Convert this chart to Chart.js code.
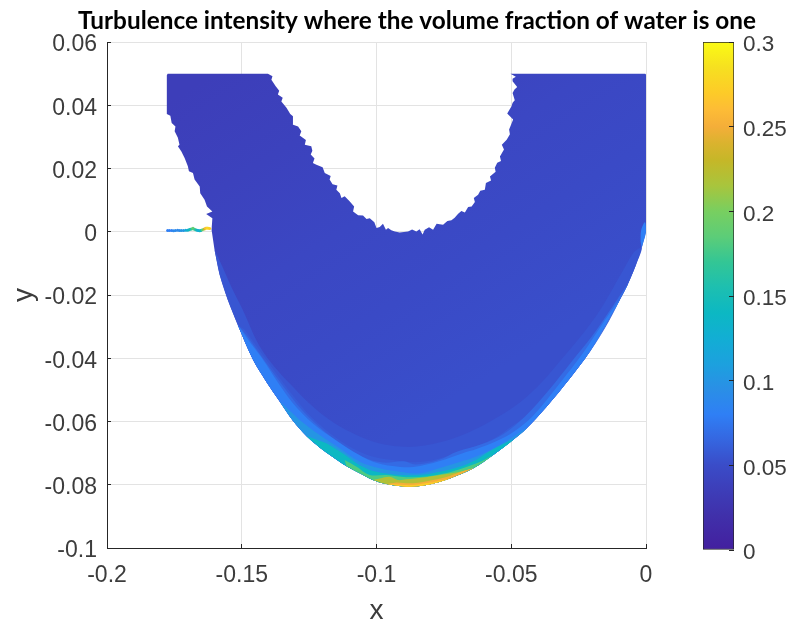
<!DOCTYPE html>
<html>
    <head>
        <meta charset="UTF-8">
        <title>Turbulence intensity</title>
        <script src="https://cdn.jsdelivr.net/npm/chart.js@4"></script>
        <style>
            body{margin:0;background:#fff;}
            #wrap{position:relative;width:789px;height:623px;overflow:hidden;}
            canvas{position:absolute;top:0;}
            #fieldChart{left:0;}
            #barChart{left:700px;}
        </style>
    </head>
    <body>
        <div id="wrap">
            <canvas id="fieldChart" width="789" height="623"></canvas>
            <canvas id="barChart" width="89" height="623"></canvas>
        </div>
        <script>
            const chartTitle="Turbulence intensity where the volume fraction of water is one";
            const xTicks=[-0.2,-0.15,-0.1,-0.05,0];
            const yTicks=[-0.1,-0.08,-0.06,-0.04,-0.02,0,0.02,0.04,0.06];
            const barTicks=[0,0.05,0.1,0.15,0.2,0.25,0.3];

            // colour bar: [value, colour]
            const barStops=[
                [0,"#ffffff"],[0.0008,"#ffffff"],[0.0008,"#43209f"],[0.02,"#4030aa"],[0.035,"#3d3db8"],
                [0.05,"#3a4cc8"],[0.065,"#3566e0"],[0.08,"#2f7ff5"],[0.095,"#2a8fe6"],
                [0.11,"#1ca1de"],[0.125,"#12aed4"],[0.14,"#0cb8c3"],[0.155,"#1dbfb0"],
                [0.17,"#33c695"],[0.185,"#5ccd78"],[0.2,"#78cf60"],[0.215,"#a8c53d"],
                [0.23,"#c5b728"],[0.24,"#dab32e"],[0.25,"#f4ae39"],[0.26,"#fdbc36"],
                [0.27,"#fdcb28"],[0.285,"#f6e020"],[0.3,"#fbfb14"]
            ];
            const barValue=[0.3];

            // outline of the wetted region
            const leftEdge=[[-0.1775,0.05],[-0.1778,0.0495],[-0.1778,0.0372],[-0.1765,0.0367],[-0.1760,0.0344],[-0.1746,0.0333],
                [-0.1749,0.0318],[-0.1737,0.0297],[-0.1731,0.0275],[-0.1737,0.0270],[-0.1724,0.0254],[-0.1712,0.0233],
                [-0.1700,0.0207],[-0.1696,0.0191],[-0.1681,0.0186],[-0.1675,0.0165],[-0.1656,0.0143],[-0.1654,0.0122],
                [-0.1638,0.0101],[-0.1629,0.0080],[-0.1609,0.0064],[-0.1632,0.0056],[-0.1609,0.0043],[-0.1612,0.0006]];
            const lowerArc=[[-0.1601,-0.0057],[-0.1582,-0.0136],[-0.1552,-0.0215],[-0.1515,-0.0294],[-0.1458,-0.0405],
                [-0.1409,-0.0474],[-0.1359,-0.0537],[-0.1310,-0.0598],[-0.1260,-0.0646],[-0.1211,-0.0682],[-0.1161,-0.0713],
                [-0.1112,-0.0741],[-0.1062,-0.0764],[-0.1013,-0.0785],[-0.0963,-0.0798],[-0.0889,-0.0806],[-0.0814,-0.0801],
                [-0.0728,-0.0780],[-0.0641,-0.0748],[-0.0567,-0.0706],[-0.0493,-0.0658],[-0.0443,-0.0621],[-0.0369,-0.0553],
                [-0.0282,-0.0463],[-0.0208,-0.0379],[-0.0146,-0.0289],[-0.0097,-0.0215],[-0.0067,-0.0165],[-0.0037,-0.0104],
                [-0.0016,-0.0051],[0,0]];
            const rightEdge=[[0,0.0497],[-0.0003,0.05]];
            const innerRight=[[-0.0503,0.05],[-0.0483,0.0490],[-0.0495,0.0484],[-0.0495,0.0476],[-0.0478,0.0458],[-0.0488,0.0450],
                [-0.0495,0.0439],[-0.0487,0.0416],[-0.0495,0.0408],[-0.0499,0.0397],[-0.0515,0.0374],[-0.0493,0.0355],
                [-0.0500,0.0340],[-0.0508,0.0323],[-0.0505,0.0308],[-0.0517,0.0291],[-0.0535,0.0275],[-0.0527,0.0260],
                [-0.0542,0.0238],[-0.0538,0.0224],[-0.0552,0.0218],[-0.0561,0.0202],[-0.0558,0.0190],[-0.0579,0.0175],
                [-0.0575,0.0162],[-0.0594,0.0154],[-0.0598,0.0133],[-0.0615,0.0130],[-0.0623,0.0117],[-0.0639,0.0107],
                [-0.0635,0.0094],[-0.0647,0.0080],[-0.0660,0.0078],[-0.0672,0.0061],[-0.0685,0.0066],[-0.0697,0.0057],
                [-0.0710,0.0044],[-0.0722,0.0036],[-0.0737,0.0034],[-0.0753,0.0022],[-0.0777,0.0025],[-0.0790,0.0006],
                [-0.0805,0.0014],[-0.0821,0.0006],[-0.0829,-0.0009],[-0.0840,0.0008],[-0.0852,0.0001],[-0.0868,0.0007],
                [-0.0883,0.0001],[-0.0914,-0.0002]];
            const innerLeft=[[-0.0932,0.0001],[-0.0945,0.0005],[-0.0957,0.0012],[-0.0965,0.0006],[-0.0976,0.0025],[-0.0988,0.0015],
                [-0.1000,0.0012],[-0.1008,0.0030],[-0.1025,0.0043],[-0.1037,0.0040],[-0.1050,0.0051],[-0.1068,0.0052],
                [-0.1087,0.0064],[-0.1083,0.0080],[-0.1099,0.0096],[-0.1118,0.0112],[-0.1130,0.0107],[-0.1136,0.0122],
                [-0.1149,0.0133],[-0.1145,0.0146],[-0.1163,0.0150],[-0.1174,0.0165],[-0.1170,0.0176],[-0.1192,0.0186],
                [-0.1200,0.0204],[-0.1223,0.0212],[-0.1236,0.0217],[-0.1230,0.0232],[-0.1244,0.0244],[-0.1238,0.0256],
                [-0.1242,0.0270],[-0.1266,0.0275],[-0.1262,0.0290],[-0.1285,0.0304],[-0.1279,0.0318],[-0.1291,0.0333],
                [-0.1312,0.0339],[-0.1310,0.0365],[-0.1320,0.0372],[-0.1334,0.0392],[-0.1353,0.0412],[-0.1348,0.0424],
                [-0.1366,0.0434],[-0.1361,0.0446],[-0.1374,0.0460],[-0.1390,0.0481],[-0.1386,0.0492],[-0.1403,0.05]];

            // contours of the intensity, left to right
            const contour054=[[-0.1572,-0.0110],[-0.1530,-0.0190],[-0.1500,-0.0240],[-0.1426,-0.0372],[-0.1322,-0.0480],[-0.1190,-0.0585],[-0.1040,-0.0655],[-0.0900,-0.0680],[-0.0760,-0.0665],
                [-0.0600,-0.0610],[-0.0440,-0.0520],[-0.0300,-0.0390],[-0.0180,-0.0260],[-0.0090,-0.0130],[-0.0045,-0.0065]];
            const contour060=[[-0.1489,-0.0310],[-0.1400,-0.0415],[-0.1322,-0.0505],[-0.1237,-0.0590],[-0.1136,-0.0660],[-0.1036,-0.0705],
                [-0.0940,-0.0722],[-0.0839,-0.0728],[-0.0747,-0.0712],[-0.0666,-0.0688],[-0.0567,-0.0655],[-0.0493,-0.0612],
                [-0.0406,-0.0560],[-0.0332,-0.0495],[-0.0245,-0.0420],[-0.0171,-0.0331],[-0.0109,-0.0236]];
            const contour068=[[-0.1480,-0.0330],[-0.1405,-0.0420],[-0.1345,-0.0490],[-0.1275,-0.0565],[-0.1195,-0.0630],[-0.1125,-0.0675],[-0.1050,-0.0712],
                [-0.0975,-0.0730],[-0.0900,-0.0726],[-0.0855,-0.0736],[-0.0770,-0.0722],[-0.0700,-0.0695],[-0.0610,-0.0672],[-0.0530,-0.0640],
                [-0.0450,-0.0585],[-0.0360,-0.0500],[-0.0280,-0.0415],[-0.0200,-0.0330],[-0.0135,-0.0250]];
            const contour078=[[-0.1471,-0.0348],[-0.1421,-0.0405],[-0.1372,-0.0469],[-0.1310,-0.0542],[-0.1236,-0.0606],[-0.1161,-0.0653],
                [-0.1087,-0.0695],[-0.1013,-0.0727],[-0.0939,-0.0741],[-0.0864,-0.0744],[-0.0765,-0.0725],[-0.0680,-0.0700],
                [-0.0629,-0.0687],[-0.0554,-0.0662],[-0.0487,-0.0630],[-0.0419,-0.0582],[-0.0319,-0.0478],[-0.0233,-0.0383],[-0.0159,-0.0288]];
            const contour100=[[-0.1285,-0.0595],[-0.1211,-0.0643],[-0.1136,-0.0685],[-0.1062,-0.0727],[-0.0988,-0.0748],[-0.0914,-0.0759],
                [-0.0839,-0.0764],[-0.0765,-0.0747],[-0.0691,-0.0728],[-0.0629,-0.0711],[-0.0554,-0.0680],[-0.0487,-0.0646]];
            const contour140=[[-0.1186,-0.0669],[-0.1124,-0.0701],[-0.1062,-0.0738],[-0.1000,-0.0759],[-0.0914,-0.0769],[-0.0839,-0.0769],
                [-0.0765,-0.0759],[-0.0691,-0.0743],[-0.0635,-0.0723],[-0.0572,-0.0690]];
            const contour180=[[-0.1118,-0.0722],[-0.1074,-0.0743],[-0.1025,-0.0769],[-0.0963,-0.0769],[-0.0889,-0.0776],[-0.0814,-0.0774],
                [-0.0740,-0.0763],[-0.0691,-0.0751],[-0.0617,-0.0728]];
            const contour220=[[-0.0988,-0.0780],[-0.0951,-0.0775],[-0.0921,-0.0785],[-0.0889,-0.0783],[-0.0827,-0.0777],[-0.0765,-0.0769],[-0.0691,-0.0759]];
            const contour250=[[-0.0926,-0.0793],[-0.0864,-0.0795],[-0.0790,-0.0785],[-0.0728,-0.0772],[-0.0672,-0.0755]];
            const contour270=[[-0.0921,-0.0799],[-0.0869,-0.0801],[-0.0802,-0.0793]];
            const contourTip=[[-0.0020,-0.0030],[-0.0018,0.0005],[-0.0004,0.0030]];

            // the thin strip left of the region
            const stripX=[-0.1775,-0.1768,-0.1760,-0.1753,-0.1746,-0.1738,-0.1731,-0.1724,-0.1716,-0.1708,-0.1701,-0.1696,-0.1691,-0.1686,-0.1681,-0.1676,-0.1671,-0.1666,-0.1661,-0.1656,-0.1652,-0.1646,-0.1639,-0.1634,-0.1629,-0.1624,-0.1619];
            const stripY=[0.0004,0.0004,0.0004,0.0003,0.0004,0.0005,0.0004,0.0004,0.0004,0.0005,0.0005,0.0006,0.0008,0.0009,0.0011,0.0008,0.0006,0.0005,0.0004,0.0003,0.0004,0.0006,0.0009,0.0011,0.0012,0.0011,0.0010];
            const stripT=[0.08,0.08,0.08,0.09,0.09,0.09,0.09,0.1,0.1,0.12,0.13,0.14,0.15,0.17,0.19,0.18,0.16,0.14,0.12,0.13,0.15,0.19,0.23,0.26,0.28,0.28,0.27];

            // shading of the whole region from upper left to the bottom
            const baseStart=[-0.1700,0.0450];
            const baseEnd=[-0.0900,-0.0630];
            const baseShade=[[0,0.036],[0.25,0.04],[0.5,0.045],[0.72,0.048],[1,0.052]];

            function hexToRgb(h){
                return [1,3,5].map(i=>parseInt(h.substr(i,2),16));
            }
            function colorOf(t){
                for(let i=barStops.length-1;i>0;i--){
                    const [a,ca]=barStops[i-1];
                    const [b,cb]=barStops[i];
                    if(t>=a&&t<=b&&b>a){
                        const f=(t-a)/(b-a);
                        const p=hexToRgb(ca),q=hexToRgb(cb);
                        return "rgb("+p.map((v,k)=>Math.round(v+(q[k]-v)*f)).join(",")+")";
                    }
                }
                return "#3a4cc8";
            }
            const toPoints=list=>list.map(([x,y])=>({x,y}));
            function arcBand(contour,from,to){
                return contour.concat(lowerArc.slice(from,to+1).reverse());
            }

            const outline=[...leftEdge,...lowerArc,...rightEdge,...innerRight,...innerLeft];
            const layers=[
                [0.056,arcBand(contour054,0,29)],
                [0.06,arcBand(contour060,3,28)],
                [0.068,arcBand(contour068,3,27)],
                [0.08,arcBand(contour078,3,26)],
                [0.1,arcBand(contour100,6,21)],
                [0.14,arcBand(contour140,8,20)],
                [0.18,arcBand(contour180,11,19)],
                [0.22,arcBand(contour220,13,18)],
                [0.25,arcBand(contour250,14,18)],
                [0.27,arcBand(contour270,14,17)],
                [0.08,arcBand(contourTip,29,30)]
            ];

            function baseFill(ctx){
                const {x,y}=ctx.chart.scales;
                const x0=x.getPixelForValue(baseStart[0]),y0=y.getPixelForValue(baseStart[1]);
                const x1=x.getPixelForValue(baseEnd[0]),y1=y.getPixelForValue(baseEnd[1]);
                if(![x0,y0,x1,y1].every(Number.isFinite)) return "#3a4cc8";
                const g=ctx.chart.ctx.createLinearGradient(x0,y0,x1,y1);
                for(const [p,t] of baseShade) g.addColorStop(p,colorOf(t));
                return g;
            }

            const datasets=[{
                data:toPoints(outline),
                showLine:true,
                fill:"shape",
                tension:0,
                borderWidth:0,
                pointRadius:0,
                backgroundColor:baseFill,
                order:layers.length+2
            }];
            layers.forEach(([t,poly],i)=>datasets.push({
                data:toPoints(poly),
                showLine:true,
                fill:"shape",
                tension:0.35,
                borderWidth:0,
                pointRadius:0,
                backgroundColor:colorOf(t),
                order:layers.length-i+1
            }));
            datasets.push({
                data:stripX.map((x,i)=>({x,y:stripY[i]})),
                pointRadius:1.5,
                pointBorderWidth:0,
                pointBackgroundColor:stripT.map(colorOf),
                order:0
            });

            const axisColor="#262626";
            const tickFont={family:"'Liberation Sans'",size:23};

            const titlePlacing={
                id:"titlePlacing",
                afterLayout(chart){
                    chart.titleBlock.left=78;
                    chart.titleBlock.right=756;
                }
            };

            new Chart(document.getElementById("fieldChart"),{
                type:"scatter",
                data:{datasets},
                plugins:[titlePlacing],
                options:{
                    responsive:false,
                    animation:false,
                    events:[],
                    layout:{padding:{left:0,right:143,top:0,bottom:0}},
                    plugins:{
                        legend:{display:false},
                        tooltip:{enabled:false},
                        title:{
                            display:true,
                            text:chartTitle,
                            color:"#000",
                            font:{family:"Lato",size:24.4,weight:"bold",lineHeight:1},
                            padding:{top:9,bottom:8.6}
                        }
                    },
                    scales:{
                        x:{
                            type:"linear",
                            min:-0.2,
                            max:0,
                            afterBuildTicks:s=>{s.ticks=xTicks.map(value=>({value}));},
                            afterFit:s=>{s.height=75;},
                            border:{color:axisColor},
                            grid:{color:"#e3e3e3",tickColor:axisColor,tickLength:-4},
                            ticks:{
                                font:tickFont,color:"#3c3c3c",padding:18,maxRotation:0,autoSkip:false,
                                callback:v=>String(v)
                            },
                            title:{display:true,text:"x",color:"#3c3c3c",font:{family:"'Liberation Sans'",size:28,lineHeight:0.85},padding:0}
                        },
                        y:{
                            type:"linear",
                            min:-0.1,
                            max:0.06,
                            afterBuildTicks:s=>{s.ticks=yTicks.map(value=>({value}));},
                            afterFit:s=>{s.width=107;},
                            border:{color:axisColor},
                            grid:{color:"#e3e3e3",tickColor:axisColor,tickLength:-4},
                            ticks:{
                                font:tickFont,color:"#3c3c3c",padding:14,labelOffset:3,autoSkip:false,
                                callback:v=>String(v)
                            },
                            title:{display:true,text:"y",color:"#3c3c3c",font:{family:"'Liberation Sans'",size:28,lineHeight:1},padding:{top:10,bottom:0}}
                        }
                    }
                }
            });

            new Chart(document.getElementById("barChart"),{
                type:"bar",
                data:{
                    labels:[""],
                    datasets:[{
                        data:barValue,
                        barPercentage:1,
                        categoryPercentage:1,
                        borderColor:axisColor,
                        borderWidth:1,
                        borderSkipped:false,
                        backgroundColor:ctx=>{
                            const y=ctx.chart.scales.y;
                            const y0=y.getPixelForValue(0),y1=y.getPixelForValue(0.3);
                            if(!Number.isFinite(y0)||!Number.isFinite(y1)) return "#3a4cc8";
                            const g=ctx.chart.ctx.createLinearGradient(0,y0,0,y1);
                            for(const [t,c] of barStops) g.addColorStop(t/0.3,c);
                            return g;
                        }
                    }]
                },
                options:{
                    responsive:false,
                    animation:false,
                    events:[],
                    layout:{padding:{left:3,right:0,top:42,bottom:73}},
                    plugins:{legend:{display:false},tooltip:{enabled:false}},
                    scales:{
                        x:{display:false},
                        y:{
                            position:"right",
                            min:0,
                            max:0.3,
                            afterBuildTicks:s=>{s.ticks=barTicks.map(value=>({value}));},
                            afterFit:s=>{s.width=55;},
                            border:{display:false},
                            grid:{z:1,color:"rgba(0,0,0,0)",tickColor:axisColor,tickLength:-5},
                            ticks:{
                                font:{family:"'Liberation Sans'",size:22.5},color:"#3c3c3c",padding:14,labelOffset:3,autoSkip:false,
                                callback:v=>String(v)
                            }
                        }
                    }
                }
            });
        </script>
    </body>
</html>
